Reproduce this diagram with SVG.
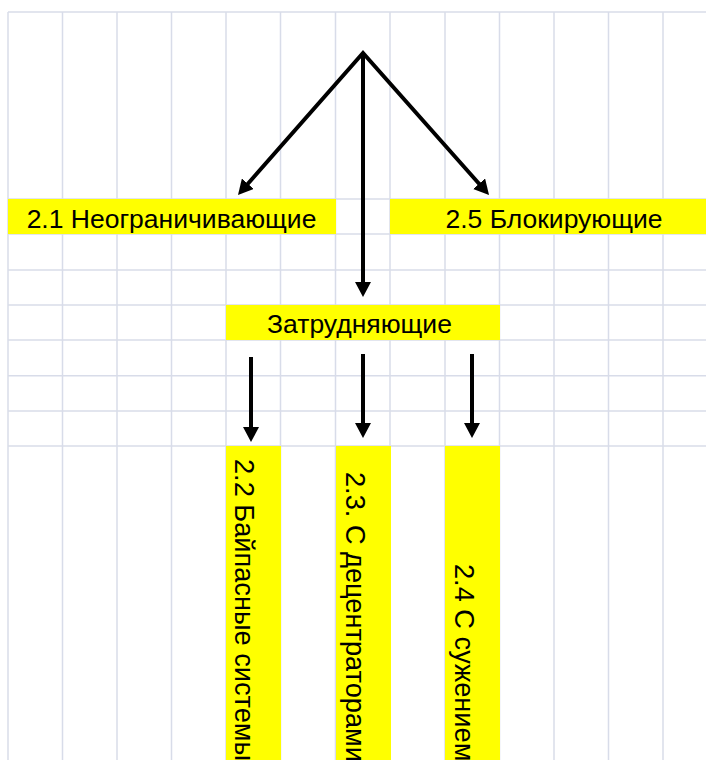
<svg xmlns="http://www.w3.org/2000/svg" width="706" height="760" viewBox="0 0 706 760">
<style>
.grid line{stroke:#d8dce9;stroke-width:1.5}
.cell{fill:#ffff00}
.lbl{font-family:"Liberation Sans",Arial,sans-serif;font-size:26.5px;fill:#000}
.vlbl{font-size:27.2px}
.conn{stroke:#000;stroke-width:4;fill:none;stroke-linejoin:miter}
</style>
<defs>
<marker id="ah" markerUnits="userSpaceOnUse" markerWidth="16" markerHeight="16" viewBox="0 0 16 16" refX="5" refY="8" orient="auto-start-reverse">
<path d="M0,0 L15,8 L0,16 z" fill="#000"/>
</marker>
</defs>
<rect width="706" height="760" fill="#fff"/>
<g class="grid">
<line x1="8" y1="12" x2="706" y2="12"/>
<line x1="8" y1="199" x2="706" y2="199"/>
<line x1="8" y1="234" x2="706" y2="234"/>
<line x1="8" y1="270" x2="706" y2="270"/>
<line x1="8" y1="305" x2="706" y2="305"/>
<line x1="8" y1="340" x2="706" y2="340"/>
<line x1="8" y1="375.7" x2="706" y2="375.7"/>
<line x1="8" y1="411" x2="706" y2="411"/>
<line x1="8" y1="446" x2="706" y2="446"/>
<line x1="8" y1="12" x2="8" y2="760"/>
<line x1="62.5" y1="12" x2="62.5" y2="760"/>
<line x1="117" y1="12" x2="117" y2="760"/>
<line x1="171.5" y1="12" x2="171.5" y2="760"/>
<line x1="226" y1="12" x2="226" y2="760"/>
<line x1="280.5" y1="12" x2="280.5" y2="760"/>
<line x1="335.5" y1="12" x2="335.5" y2="760"/>
<line x1="390" y1="12" x2="390" y2="760"/>
<line x1="445" y1="12" x2="445" y2="760"/>
<line x1="499.5" y1="12" x2="499.5" y2="760"/>
<line x1="554" y1="12" x2="554" y2="760"/>
<line x1="608.5" y1="12" x2="608.5" y2="760"/>
<line x1="663" y1="12" x2="663" y2="760"/>
</g>
<g id="node-2-1">
<rect class="cell" x="8" y="199" width="328" height="35"/>
<text class="lbl" x="171.5" y="228" text-anchor="middle">2.1 Неограничивающие</text>
</g>
<g id="node-2-5">
<rect class="cell" x="390" y="199" width="327" height="35"/>
<text class="lbl" x="554" y="228" text-anchor="middle">2.5 Блокирующие</text>
</g>
<g id="node-zatrud">
<rect class="cell" x="226" y="305" width="274" height="35"/>
<text class="lbl" x="359.5" y="333" text-anchor="middle">Затрудняющие</text>
</g>
<g id="node-2-2">
<rect class="cell" x="226" y="446" width="55" height="314"/>
<text class="lbl vlbl" transform="translate(235,459) rotate(90)">2.2 Байпасные системы</text>
</g>
<g id="node-2-3">
<rect class="cell" x="336" y="446" width="55" height="314"/>
<text class="lbl vlbl" transform="translate(345.5,472) rotate(90)">2.3. С децентраторами</text>
</g>
<g id="node-2-4">
<rect class="cell" x="445" y="446" width="55" height="314"/>
<text class="lbl vlbl" transform="translate(455,564) rotate(90)">2.4 С сужением</text>
</g>
<g id="connectors">
<path class="conn" d="M244.6,187.5 L363,53 L482.4,187.5" marker-start="url(#ah)" marker-end="url(#ah)"/>
<line class="conn" x1="363" y1="53" x2="363" y2="287" marker-end="url(#ah)"/>
<line class="conn" x1="251" y1="357" x2="251" y2="432" marker-end="url(#ah)"/>
<line class="conn" x1="363" y1="354" x2="363" y2="428" marker-end="url(#ah)"/>
<line class="conn" x1="472" y1="354" x2="472" y2="428" marker-end="url(#ah)"/>
</g>
</svg>
